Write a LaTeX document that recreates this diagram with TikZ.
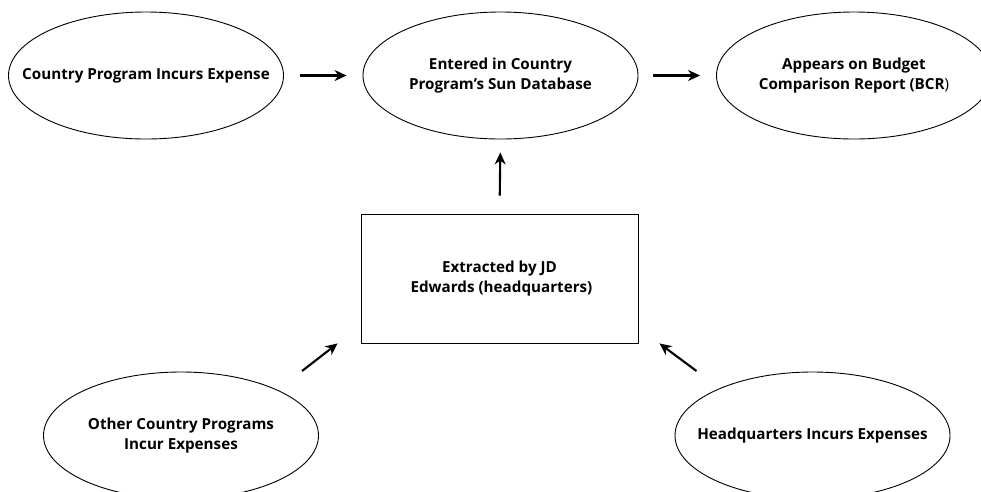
\documentclass[tikz,border=0pt]{standalone}
\usepackage{fontspec}
\setmainfont{Open Sans}
\usetikzlibrary{shapes.geometric,arrows.meta,calc}
\newcommand{\ovaltext}[1]{\makebox[0pt]{\begin{tabular}{@{}c@{}}#1\end{tabular}}}
\begin{document}
\begin{tikzpicture}[x=1pt,y=-1pt,
  txt/.style={font=\bfseries\fontsize{15.2}{20}\selectfont},
  oval/.style={draw,ellipse,line width=0.9pt,minimum width=275pt,minimum height=127pt,inner sep=0pt,txt},
  boxnode/.style={draw,rectangle,line width=0.9pt,minimum width=277pt,minimum height=129pt,inner sep=0pt,align=center,txt},
  arr/.style={line width=2.1pt,-{Stealth[length=12pt,width=11pt]}}]
\clip (0,0) rectangle (981,491);
\fill[white] (0,0) rectangle (981,491);
\node[oval] (cp) at (146,75.5) {\ovaltext{Country Program Incurs Expense}};
\node[oval] (sun) at (500.5,75.5) {\ovaltext{Entered in Country\\Program’s Sun Database}};
\node[oval] (bcr) at (854,75.5) {\ovaltext{Appears on Budget\\Comparison Report (BCR{\mdseries)}}};
\node[boxnode] (jd) at (499.5,278.5) {Extracted by JD\\ \ Edwards (headquarters)};
\node[oval] (ocp) at (181,435.5) {\ovaltext{Other Country Programs\\Incur Expenses}};
\node[oval] (hq) at (812.5,435.5) {\ovaltext{Headquarters Incurs Expenses}};
\coordinate (ocps) at ($(ocp.center)+(121,-64.5)$);
\coordinate (ocpe) at ($(jd.south west)+(-23,0)$);
\coordinate (hqs) at ($(hq.center)+(-116,-64.5)$);
\coordinate (hqe) at ($(jd.south east)+(21,0)$);
\draw[arr,shorten <=16pt,shorten >=16pt] (cp.east) -- (sun.west);
\draw[arr,shorten <=15pt,shorten >=16pt] (sun.east) -- (bcr.west);
\draw[arr,shorten <=18pt,shorten >=13pt] (jd.north) -- (sun.south);
\draw[arr] (ocps) -- (ocpe);
\draw[arr] (hqs) -- (hqe);
\end{tikzpicture}
\end{document}
